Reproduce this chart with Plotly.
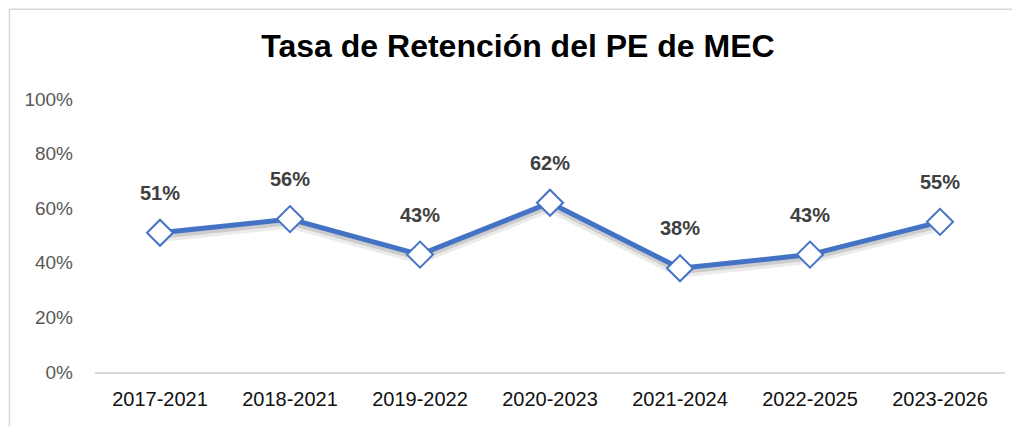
import plotly.graph_objects as go

categories = ["2017-2021", "2018-2021", "2019-2022", "2020-2023", "2021-2024", "2022-2025", "2023-2026"]
retention = [0.51, 0.56, 0.43, 0.62, 0.38, 0.43, 0.55]
y_ticks = [0, 0.2, 0.4, 0.6, 0.8, 1.0]
y_tick_labels = ["0%", "20%", "40%", "60%", "80%", "100%"]
title_text = "Tasa de Retención del PE de MEC"

BLUE = "#4472C4"
FONT = "Liberation Sans, Arial, sans-serif"

fig = go.Figure()

# soft shadow under the line
fig.add_trace(go.Scatter(
    x=categories, y=[v - 0.014 for v in retention], mode="lines",
    line=dict(color="rgba(0,0,0,0.08)", width=11), hoverinfo="skip", showlegend=False))
fig.add_trace(go.Scatter(
    x=categories, y=[v - 0.011 for v in retention], mode="lines",
    line=dict(color="rgba(0,0,0,0.13)", width=6), hoverinfo="skip", showlegend=False))

fig.add_trace(go.Scatter(
    x=categories, y=retention, mode="lines+markers",
    line=dict(color=BLUE, width=5),
    marker=dict(symbol="diamond", size=20, color="white", line=dict(color=BLUE, width=2)),
    showlegend=False))

for c, v in zip(categories, retention):
    fig.add_annotation(x=c, y=v, text=f"<b>{round(v*100)}%</b>", showarrow=False,
                       yshift=40, font=dict(family=FONT, size=20, color="#404040"))

# outer chart border (light gray)
fig.add_shape(type="rect", xref="paper", yref="paper",
              x0=-0.094, x1=1.05, y0=-0.3, y1=1.329,
              line=dict(color="#d9d9d9", width=1.5), fillcolor="rgba(0,0,0,0)", layer="below")

fig.update_layout(
    width=1020, height=426,
    margin=dict(l=87, r=23, t=91, b=62),
    paper_bgcolor="white", plot_bgcolor="white",
    title=dict(text=f"<b>{title_text}</b>", x=0.5, xanchor="center", y=0.911, yanchor="middle",
               font=dict(family=FONT, size=32, color="black")),
    font=dict(family=FONT),
    xaxis=dict(type="category", categoryorder="array", categoryarray=categories,
               showgrid=False, showline=True, linecolor="#d9d9d9", linewidth=1.5,
               ticks="", tickfont=dict(family=FONT, size=20, color="#111111"),
               ticklabelstandoff=8,
               range=[-0.5, len(categories) - 0.5], zeroline=False),
    yaxis=dict(range=[0, 1], tickvals=y_ticks, ticktext=y_tick_labels,
               showgrid=False, showline=False, zeroline=False, ticks="",
               tickfont=dict(family=FONT, size=19, color="#595959"),
               ticklabelstandoff=21),
)

fig.write_html("out.html")
